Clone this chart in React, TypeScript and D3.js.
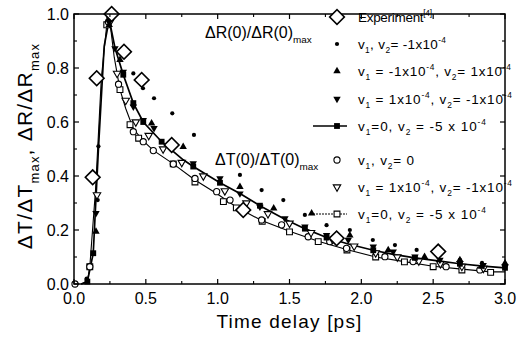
import React from 'react';
import * as d3 from 'd3';

// ---------- data ----------
const xTickLabels = ['0.0', '0.5', '1.0', '1.5', '2.0', '2.5', '3.0'];
const yTickLabels = ['0.0', '0.2', '0.4', '0.6', '0.8', '1.0'];
const xMajor = [0, 0.5, 1, 1.5, 2, 2.5, 3];
const xMinor = [0.25, 0.75, 1.25, 1.75, 2.25, 2.75];
const yMajor = [0, 0.2, 0.4, 0.6, 0.8, 1.0];
const yMinor = [0.1, 0.3, 0.5, 0.7, 0.9];

// Experiment (open diamonds)
const expT = [0.13, 0.158, 0.262, 0.348, 0.471, 0.68, 1.178, 1.828, 2.535];
const expV = [0.395, 0.762, 1.0, 0.86, 0.756, 0.515, 0.274, 0.169, 0.12];

// dR: v1, v2 = -1e-4 (filled dots)
const dotT = [0.088, 0.165, 0.17, 0.245, 0.33, 0.413, 0.48, 0.557, 0.684, 0.835, 1.155, 1.306, 1.457, 1.607, 1.758, 1.92, 2.08, 2.234, 2.385, 2.53, 2.686, 2.84, 3.0];
const dotV = [0.02, 0.311, 0.51, 0.97, 0.86, 0.78, 0.725, 0.688, 0.632, 0.552, 0.404, 0.348, 0.311, 0.256, 0.218, 0.2, 0.163, 0.144, 0.126, 0.105, 0.089, 0.078, 0.07];

// dR: v1 = -1e-4, v2 = 1e-4 (filled up triangles)
const upT = [0.153, 0.245, 0.32, 0.54, 0.76, 1.155, 1.39, 1.654, 1.92, 2.187, 2.44, 2.686, 2.837, 3.0];
const upV = [0.194, 0.96, 0.83, 0.595, 0.508, 0.36, 0.28, 0.262, 0.18, 0.126, 0.101, 0.089, 0.064, 0.077];

// dR: v1 = 1e-4, v2 = -1e-4 (filled down triangles)
const downT = [0.153, 0.285, 0.343, 0.413, 0.482, 0.557, 0.68, 0.83, 1.016, 1.155, 1.294, 1.468, 1.607, 1.758, 1.909, 2.083, 2.222, 2.373, 2.547, 2.686, 2.848, 3.0];
const downV = [0.262, 0.873, 0.786, 0.657, 0.607, 0.577, 0.5, 0.447, 0.391, 0.335, 0.286, 0.243, 0.212, 0.181, 0.163, 0.138, 0.12, 0.101, 0.089, 0.077, 0.07, 0.064];

// dR: v1 = 0, v2 = -5e-4 (solid line with filled squares)
const lineRT = [0.05, 0.093, 0.134, 0.17, 0.21, 0.245, 0.285, 0.343, 0.413, 0.482, 0.61, 0.76, 0.83, 1.016, 1.155, 1.294, 1.468, 1.607, 1.758, 1.909, 2.083, 2.222, 2.373, 2.547, 2.686, 2.848, 3.0];
const lineRV = [0, 0.009, 0.114, 0.5, 0.88, 0.98, 0.875, 0.775, 0.67, 0.6, 0.527, 0.46, 0.435, 0.375, 0.335, 0.29, 0.24, 0.205, 0.172, 0.148, 0.125, 0.11, 0.097, 0.085, 0.075, 0.066, 0.06];
const sqRT = [0.093, 0.134, 0.245, 0.343, 0.413, 0.482, 0.61, 0.83, 1.016, 1.294, 1.607, 1.758, 2.083, 2.373, 2.686, 3.0];
const sqRV = [0.009, 0.114, 0.98, 0.775, 0.67, 0.6, 0.527, 0.435, 0.375, 0.29, 0.205, 0.172, 0.125, 0.097, 0.075, 0.06];

// dT: v1, v2 = 0 (open circles)
const circT = [0.007, 0.11, 0.24, 0.31, 0.413, 0.482, 0.552, 0.691, 0.842, 0.993, 1.086, 1.306, 1.445, 1.63, 1.78, 1.897, 2.164, 2.36, 2.59, 2.825];
const circV = [0, 0.064, 0.97, 0.74, 0.564, 0.527, 0.494, 0.444, 0.391, 0.342, 0.311, 0.237, 0.219, 0.175, 0.157, 0.132, 0.101, 0.083, 0.064, 0.052];

// dT: v1 = 1e-4, v2 = -1e-4 (open down triangles)
const odT = [0.16, 0.25, 0.3, 0.36, 0.43, 0.52, 0.62, 0.75, 0.9, 1.05, 1.2, 1.35, 1.5, 1.65, 1.8, 1.95, 2.1, 2.25, 2.4, 2.55, 2.7, 2.85];
const odV = [0.33, 0.97, 0.78, 0.68, 0.6, 0.55, 0.5, 0.45, 0.4, 0.345, 0.3, 0.26, 0.225, 0.19, 0.165, 0.14, 0.115, 0.1, 0.085, 0.075, 0.065, 0.058];

// dT: v1 = 0, v2 = -5e-4 (thin line with open squares)
const lineTT = [0.05, 0.093, 0.11, 0.15, 0.19, 0.228, 0.25, 0.28, 0.32, 0.36, 0.413, 0.482, 0.552, 0.691, 0.842, 0.993, 1.13, 1.306, 1.5, 1.7, 1.897, 2.1, 2.3, 2.5, 2.7, 2.9, 3.0];
const lineTV = [0, 0.009, 0.064, 0.35, 0.76, 0.96, 0.97, 0.84, 0.72, 0.65, 0.575, 0.53, 0.495, 0.445, 0.385, 0.335, 0.285, 0.235, 0.195, 0.158, 0.128, 0.1, 0.083, 0.066, 0.055, 0.045, 0.045];
const sqTT = [0.11, 0.228, 0.32, 0.39, 0.45, 0.691, 0.842, 1.04, 1.13, 1.31, 1.5, 1.7, 1.9, 2.1, 2.3, 2.5, 2.7, 2.9];
const sqTV = [0.064, 0.96, 0.72, 0.59, 0.54, 0.445, 0.378, 0.305, 0.282, 0.232, 0.193, 0.157, 0.126, 0.1, 0.082, 0.064, 0.052, 0.043];

// ---------- layout ----------
const W = 520, H = 338;
const x = d3.scaleLinear().domain([0, 3]).range([74, 505]);
const y = d3.scaleLinear().domain([0, 1]).range([284, 14]);
const FONT = '"Liberation Sans", Arial, Helvetica, sans-serif';

type Seg = [string, 'n' | 'b' | 'p'];

function Rich({ segs, x0, y0, size, anchor = 'start', transform, spacing = 0, len }:
  { segs: Seg[]; x0: number; y0: number; size: number; anchor?: string; transform?: string; spacing?: number; len?: number }) {
  let cur = 0;
  const shift = { n: 0, b: size * 0.32, p: -size * 0.42 } as const;
  const extra: any = len ? { textLength: len, lengthAdjust: 'spacing' } : {};
  return (
    <text x={x0} y={y0} fontSize={size} textAnchor={anchor} transform={transform}
      fontFamily={FONT} fill="#000" style={{ letterSpacing: spacing }} {...extra}>
      {segs.map(([t, k], i) => {
        const target = shift[k];
        const dy = target - cur;
        cur = target;
        return (
          <tspan key={i} dy={dy} fontSize={k === 'n' ? size : size * 0.62}>{t}</tspan>
        );
      })}
    </text>
  );
}

const sym = (type: any, size: number) => d3.symbol().type(type).size(size)() as string;
const DIAMOND = sym(d3.symbolSquare, 108);
const TRI = sym(d3.symbolTriangle, 24);
const SQ = sym(d3.symbolSquare, 34);
const CIRC = sym(d3.symbolCircle, 30);
const DOT = sym(d3.symbolCircle, 14);

type MarkKind = 'diamond' | 'dot' | 'up' | 'down' | 'sqf' | 'circ' | 'odown' | 'sqo';

function Mark({ kind, cx, cy }: { kind: MarkKind; cx: number; cy: number }) {
  const t = `translate(${cx},${cy})`;
  switch (kind) {
    case 'diamond':
      return <path d={DIAMOND} transform={`${t} rotate(45)`} fill="#fff" stroke="#000" strokeWidth={1.6} />;
    case 'dot':
      return <path d={DOT} transform={t} fill="#000" />;
    case 'up':
      return <path d={TRI} transform={t} fill="#000" />;
    case 'down':
      return <path d={TRI} transform={`${t} rotate(180)`} fill="#000" />;
    case 'sqf':
      return <path d={SQ} transform={t} fill="#000" />;
    case 'circ':
      return <path d={CIRC} transform={t} fill="#fff" stroke="#000" strokeWidth={1.1} />;
    case 'odown':
      return <path d={TRI} transform={`${t} rotate(180)`} fill="#fff" stroke="#000" strokeWidth={1.1} />;
    case 'sqo':
      return <path d={SQ} transform={t} fill="#fff" stroke="#000" strokeWidth={1.1} />;
  }
  return null;
}

function Series({ ts, vs, kind }: { ts: number[]; vs: number[]; kind: MarkKind }) {
  return <g>{ts.map((t, i) => <Mark key={i} kind={kind} cx={x(t)} cy={y(vs[i])} />)}</g>;
}

const line = d3.line<[number, number]>().x(d => x(d[0])).y(d => y(d[1]));
const zip = (a: number[], b: number[]) => a.map((v, i) => [v, b[i]] as [number, number]);

const legRows = [17, 44, 71, 99, 126, 160, 187, 214];
const LX = 337, TX = 358, LS = 13.5;

export default function App() {
  const [xl, xr] = x.range();
  const [yb, yt] = y.range();
  return (
    <svg width={W} height={H} style={{ position: 'absolute', left: 0, top: 0, background: '#fff' }}>
      <rect width={W} height={H} fill="#fff" />

      {/* curves */}
      <path d={line(zip(lineTT, lineTV)) || ''} fill="none" stroke="#000" strokeWidth={1.1} />
      <path d={line(zip(lineRT, lineRV)) || ''} fill="none" stroke="#000" strokeWidth={1.7} />

      {/* markers */}
      <Series ts={sqTT} vs={sqTV} kind="sqo" />
      <Series ts={circT} vs={circV} kind="circ" />
      <Series ts={odT} vs={odV} kind="odown" />
      <Series ts={dotT} vs={dotV} kind="dot" />
      <Series ts={upT} vs={upV} kind="up" />
      <Series ts={downT} vs={downV} kind="down" />
      <Series ts={sqRT} vs={sqRV} kind="sqf" />
      <Series ts={expT} vs={expV} kind="diamond" />

      {/* frame */}
      <rect x={xl} y={yt} width={xr - xl} height={yb - yt} fill="none" stroke="#000" strokeWidth={1.5} />

      {/* ticks */}
      {xMajor.map((v, i) => (
        <g key={'xm' + i}>
          <line x1={x(v)} x2={x(v)} y1={yb} y2={yb - 5} stroke="#000" strokeWidth={1.2} />
          <line x1={x(v)} x2={x(v)} y1={yt} y2={yt + 5} stroke="#000" strokeWidth={1.2} />
        </g>
      ))}
      {xMinor.map((v, i) => (
        <g key={'xn' + i}>
          <line x1={x(v)} x2={x(v)} y1={yb} y2={yb - 3} stroke="#000" strokeWidth={1.1} />
          <line x1={x(v)} x2={x(v)} y1={yt} y2={yt + 3} stroke="#000" strokeWidth={1.1} />
        </g>
      ))}
      {yMajor.map((v, i) => (
        <g key={'ym' + i}>
          <line x1={xl} x2={xl + 5} y1={y(v)} y2={y(v)} stroke="#000" strokeWidth={1.2} />
          <line x1={xr} x2={xr - 5} y1={y(v)} y2={y(v)} stroke="#000" strokeWidth={1.2} />
        </g>
      ))}
      {yMinor.map((v, i) => (
        <g key={'yn' + i}>
          <line x1={xl} x2={xl + 3} y1={y(v)} y2={y(v)} stroke="#000" strokeWidth={1.1} />
          <line x1={xr} x2={xr - 3} y1={y(v)} y2={y(v)} stroke="#000" strokeWidth={1.1} />
        </g>
      ))}

      {/* tick labels */}
      {xMajor.map((v, i) => (
        <text key={'xl' + i} x={x(v)} y={304} fontSize={16} textAnchor="middle" fontFamily={FONT}>{xTickLabels[i]}</text>
      ))}
      {yMajor.map((v, i) => (
        <text key={'yl' + i} x={69} y={y(v) + 5.5} fontSize={16} textAnchor="end" fontFamily={FONT}>{yTickLabels[i]}</text>
      ))}

      {/* axis titles */}
      <Rich segs={[['Time delay [ps]', 'n']]} x0={(xl + xr) / 2} y0={328} size={19} anchor="middle" spacing={1.2} />
      <Rich segs={[['ΔT/ΔT', 'n'], ['max', 'b'], [', ΔR/ΔR', 'n'], ['max', 'b']]}
        x0={0} y0={0} size={21} anchor="middle" spacing={1.2} transform="translate(32,146) rotate(-90)" />

      {/* group labels */}
      <Rich segs={[['ΔR(0)/ΔR(0)', 'n'], ['max', 'b']]} x0={205} y0={38} size={16} />
      <Rich segs={[['ΔT(0)/ΔT(0)', 'n'], ['max', 'b']]} x0={215} y0={165} size={16} />

      {/* legend */}
      <Mark kind="diamond" cx={LX} cy={legRows[0]} />
      <Rich segs={[['Experiment', 'n'], ['[4]', 'p']]} x0={TX} y0={legRows[0] + 5} size={13.5} len={74} />

      <Mark kind="dot" cx={LX} cy={legRows[1]} />
      <Rich segs={[['v', 'n'], ['1', 'b'], [', v', 'n'], ['2', 'b'], ['= -1x10', 'n'], ['-4', 'p']]} x0={TX} y0={legRows[1] + 5} size={LS} len={88} />

      <Mark kind="up" cx={LX} cy={legRows[2]} />
      <Rich segs={[['v', 'n'], ['1', 'b'], [' = -1x10', 'n'], ['-4', 'p'], [', v', 'n'], ['2', 'b'], ['= 1x10', 'n'], ['-4', 'p']]} x0={TX} y0={legRows[2] + 5} size={LS} len={153} />

      <Mark kind="down" cx={LX} cy={legRows[3]} />
      <Rich segs={[['v', 'n'], ['1', 'b'], [' = 1x10', 'n'], ['-4', 'p'], [', v', 'n'], ['2', 'b'], ['= -1x10', 'n'], ['-4', 'p']]} x0={TX} y0={legRows[3] + 5} size={LS} len={154} />

      <line x1={LX - 24} x2={LX + 10} y1={legRows[4]} y2={legRows[4]} stroke="#000" strokeWidth={1.7} />
      <Mark kind="sqf" cx={LX} cy={legRows[4]} />
      <Rich segs={[['v', 'n'], ['1', 'b'], ['=0, v', 'n'], ['2', 'b'], [' = -5 x 10', 'n'], ['-4', 'p']]} x0={TX} y0={legRows[4] + 5} size={LS} len={128} />

      <Mark kind="circ" cx={LX} cy={legRows[5]} />
      <Rich segs={[['v', 'n'], ['1', 'b'], [', v', 'n'], ['2', 'b'], ['= 0', 'n']]} x0={TX} y0={legRows[5] + 5} size={LS} len={56} />

      <Mark kind="odown" cx={LX} cy={legRows[6]} />
      <Rich segs={[['v', 'n'], ['1', 'b'], [' = 1x10', 'n'], ['-4', 'p'], [', v', 'n'], ['2', 'b'], ['= -1x10', 'n'], ['-4', 'p']]} x0={TX} y0={legRows[6] + 5} size={LS} len={154} />

      <line x1={LX - 24} x2={LX + 10} y1={legRows[7]} y2={legRows[7]} stroke="#000" strokeWidth={1} strokeDasharray="2,1" />
      <Mark kind="sqo" cx={LX} cy={legRows[7]} />
      <Rich segs={[['v', 'n'], ['1', 'b'], ['=0, v', 'n'], ['2', 'b'], [' = -5 x 10', 'n'], ['-4', 'p']]} x0={TX} y0={legRows[7] + 5} size={LS} len={128} />
    </svg>
  );
}
